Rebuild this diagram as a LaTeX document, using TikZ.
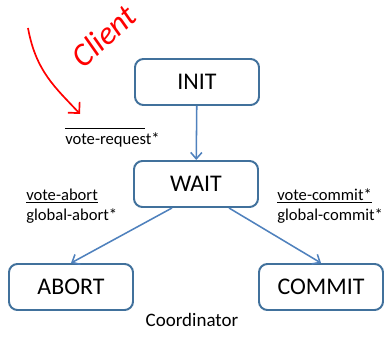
\documentclass[tikz,border=0pt]{standalone}
\usepackage{fontspec}
\setmainfont{Carlito}
\usetikzlibrary{arrows.meta}
\definecolor{boxblue}{HTML}{41719C}
\definecolor{arrblue}{HTML}{4F81BD}
\definecolor{penred}{HTML}{FF0000}
\tikzset{
	state/.style={draw=boxblue, line width=1.4pt, rounded corners=6pt, fill=white,
		minimum width=3.1cm, minimum height=1.15cm, font=\fontsize{17}{20}\selectfont},
	trans/.style={draw=arrblue, line width=1.1pt, -{Straight Barb[length=1.6mm,width=2.8mm]}},
	lbl/.style={font=\fontsize{11.8}{14}\selectfont, align=left, inner sep=0pt}
}
\begin{document}
\begin{tikzpicture}
		\useasboundingbox (0,0) rectangle (9.6,8.8);
		% states
		\node[state] (init) at (4.925,6.75) {INIT};
		\node[state] (wait) at (4.9,4.2) {WAIT};
		\node[state] (abort) at (1.775,1.625) {ABORT};
		\node[state] (commit) at (8.025,1.625) {COMMIT};
		% transitions
		\draw[trans] (init) -- (wait);
		\draw[trans] ([xshift=-0.6cm]wait.south) -- (abort.north);
		\draw[trans] ([xshift=0.825cm]wait.south) -- (commit.north);
		% labels
		\draw[line width=0.5pt] (1.625,5.6) -- ++(2,0);
		\node[lbl, anchor=north west] (req) at (1.625,5.48) {vote-request*};
		\node[lbl, anchor=west] (abl) at (0.65,3.65) {\underline{vote-abort}\\global-abort*};
		\node[lbl, anchor=west] (cml) at (6.925,3.65) {\underline{vote-commit*}\\global-commit*};
		\node[font=\fontsize{13.5}{16}\selectfont] (coord) at (4.8,0.8) {Coordinator};
		% red handwriting
		\node[text=penred, rotate=42, font=\fontsize{23}{25}\selectfont\itshape] (client) at (2.6,7.9) {Client};
		\draw[penred, line width=1.2pt, -{Straight Barb[length=2mm,width=4mm]}]
			(0.7,8.1) .. controls (0.9,7.0) and (1.4,6.6) .. (2.0,5.95);
		\end{tikzpicture}
\end{document}
